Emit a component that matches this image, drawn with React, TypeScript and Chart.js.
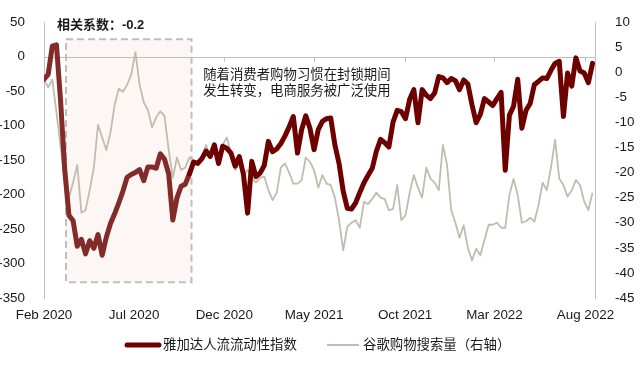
import React, { useEffect, useRef } from 'react';
import { Chart, registerables } from 'chart.js';

Chart.register(...registerables);

// Weekly series, starting first week of Feb 2020
const jakartaMobility = [
  -33, -26, 15, 17, -65, -165, -230, -238, -275, -265,
  -286, -267, -278, -258, -288, -262, -242, -228, -212, -195,
  -175, -171, -168, -164, -180, -160, -160, -162, -141, -149,
  -170, -237, -205, -188, -185, -170, -153, -155, -148, -137,
  -145, -128, -155, -130, -133, -140, -159, -145, -171, -227,
  -152, -174, -169, -158, -123, -138, -134, -126, -115, -102,
  -87, -140, -106, -86, -104, -135, -106, -94, -90, -89,
  -128, -155, -195, -220, -221, -212, -197, -183, -172, -162,
  -137, -120, -125, -131, -95, -78, -80, -90, -62, -48,
  -96, -48, -56, -61, -53, -29, -31, -38, -32, -35,
  -48, -34, -40, -70, -96, -84, -61, -66, -71, -61,
  -52, -165, -85, -72, -33, -104, -78, -68, -41, -36,
  -31, -32, -20, -10, -7, -87, -24, -43, -2, -21,
  -24, -38, -10,
];

const googleShopping = [
  -1.5, -3.0, -1.5, -8, -15, -22, -25, -22, -18.5, -28,
  -27.5, -23.5, -19, -10.5, -13, -15.5, -12, -6.5, -3.3, -3.9,
  -2.5, -0.5, 4, -2.5, -6, -7.5, -11, -9, -7.8, -8.7,
  -15.5, -21, -17, -19.5, -19, -17, -17.5, -18.5, -17, -14.5,
  -16.9, -16, -18.5, -14.5, -13, -16, -19.5, -18, -20.5, -19.5,
  -21, -22, -21, -20.8, -23.5, -25.5, -24, -19, -18.2, -20,
  -22.2, -22.2, -21.5, -17, -17.9, -19.5, -23, -20.5, -22.2, -22.5,
  -25, -29.5, -35.5, -30.8, -30, -29.5, -31, -25.8, -26.3, -25.2,
  -24, -25, -25.3, -27.5, -27.3, -22.5, -29.5, -28.5, -24, -20.5,
  -23, -25, -19, -21.2, -22, -23.5, -14.5, -18.5, -27.5, -30,
  -33, -30.5, -35, -37.5, -35.2, -36.5, -33.5, -30.4, -30.4, -30,
  -31, -31, -24.5, -21.3, -24.5, -30, -29.7, -29, -29.8, -26.5,
  -22, -23.5, -19, -13.5, -21.2, -22.5, -24.8, -23.5, -21.5, -22.5,
  -25.8, -27.5, -24,
];

const xTickWeeks = [0, 21.7, 43.4, 65, 86.9, 108.4, 130.3];
const xTickLabels = ['Feb 2020', 'Jul 2020', 'Dec 2020', 'May 2021', 'Oct 2021', 'Mar 2022', 'Aug 2022'];
const seriesNames = ['雅加达人流流动性指数', '谷歌购物搜索量（右轴）'];
const corrText = '相关系数：-0.2';
const noteLines = ['随着消费者购物习惯在封锁期间', '发生转变，电商服务被广泛使用'];

// Annotation box in data units (weeks, left-axis values)
const lockdownBox = { x0: 5.3, x1: 35.5, yTop: 25, yBottom: -327 };

const DARK = '#6E0000';
const DARK_IN_BOX = '#832B29';
const GRAY = '#BFBDAD';
const AXIS = '#BFBFBF';
const TEXT = '#1A1A1A';
const LAT = '"Liberation Sans", Arial, sans-serif';
const CJK = '"Liberation Sans", "Noto Sans CJK SC", sans-serif';

const decor = {
  id: 'decor',
  beforeDatasetsDraw(chart: any) {
    const { ctx, chartArea, scales } = chart;
    const x = scales.x;
    const y = scales.y;
    const bx0 = x.getPixelForValue(lockdownBox.x0);
    const bx1 = x.getPixelForValue(lockdownBox.x1);
    const by0 = y.getPixelForValue(lockdownBox.yTop);
    const by1 = y.getPixelForValue(lockdownBox.yBottom);
    ctx.save();
    ctx.fillStyle = '#FCF7F4';
    ctx.fillRect(bx0, by0, bx1 - bx0, by1 - by0);
    // zero line (category axis crossing)
    const y0 = Math.round(y.getPixelForValue(0)) + 0.5;
    ctx.strokeStyle = AXIS;
    ctx.lineWidth = 1;
    ctx.beginPath();
    ctx.moveTo(chartArea.left, y0);
    ctx.lineTo(chartArea.right, y0);
    ctx.stroke();
    xTickWeeks.forEach((w) => {
      const px = Math.round(x.getPixelForValue(w)) + 0.5;
      ctx.beginPath();
      ctx.moveTo(px, y0);
      ctx.lineTo(px, y0 + 4);
      ctx.stroke();
    });
    // dashed box outline
    ctx.setLineDash([7, 4]);
    ctx.lineWidth = 2;
    ctx.strokeStyle = AXIS;
    ctx.strokeRect(bx0, by0, bx1 - bx0, by1 - by0);
    ctx.restore();
  },
  afterDraw(chart: any) {
    const { ctx, scales } = chart;
    const x = scales.x;
    const y = scales.y;
    ctx.save();
    ctx.fillStyle = TEXT;
    ctx.textBaseline = 'middle';
    ctx.textAlign = 'left';
    ctx.font = 'bold 13px ' + CJK;
    ctx.fillText(corrText, x.getPixelForValue(3.1), y.getPixelForValue(45));
    ctx.font = '13.4px ' + CJK;
    ctx.fillText(noteLines[0], x.getPixelForValue(38.3), y.getPixelForValue(-27));
    ctx.fillText(noteLines[1], x.getPixelForValue(38.3), y.getPixelForValue(-50.5));

    // legend
    const ly = 345;
    ctx.lineCap = 'round';
    ctx.strokeStyle = DARK;
    ctx.lineWidth = 5;
    ctx.beginPath();
    ctx.moveTo(127, ly);
    ctx.lineTo(159, ly);
    ctx.stroke();
    ctx.strokeStyle = GRAY;
    ctx.lineWidth = 2;
    ctx.lineCap = 'butt';
    ctx.beginPath();
    ctx.moveTo(327, ly);
    ctx.lineTo(359, ly);
    ctx.stroke();
    ctx.font = '13.4px ' + CJK;
    ctx.fillStyle = TEXT;
    ctx.fillText(seriesNames[0], 163, ly);
    ctx.fillText(seriesNames[1], 363, ly);
    ctx.restore();
  },
};

export default function App() {
  const canvasRef = useRef<HTMLCanvasElement | null>(null);

  useEffect(() => {
    if (!canvasRef.current) return;
    const tickFont = { family: LAT, size: 13.4 };
    const chart = new Chart(canvasRef.current, {
      type: 'line',
      data: {
        datasets: [
          {
            label: seriesNames[0],
            data: jakartaMobility.map((v, i) => ({ x: i, y: v })),
            yAxisID: 'y',
            borderColor: DARK,
            borderWidth: 5,
            pointRadius: 0,
            tension: 0,
            borderJoinStyle: 'round',
            borderCapStyle: 'round',
            segment: {
              borderColor: (c: any) => (c.p1DataIndex <= 35 ? DARK_IN_BOX : DARK),
            },
          },
          {
            label: seriesNames[1],
            data: googleShopping.map((v, i) => ({ x: i, y: v })),
            yAxisID: 'y1',
            borderColor: GRAY,
            borderWidth: 1.8,
            pointRadius: 0,
            tension: 0,
            borderJoinStyle: 'round',
          },
        ],
      },
      options: {
        responsive: false,
        animation: false,
        devicePixelRatio: 1,
        layout: { padding: { top: 22, left: 0, right: 0, bottom: 0 } },
        plugins: { legend: { display: false }, tooltip: { enabled: false } },
        scales: {
          x: {
            type: 'linear',
            min: 0,
            max: 132.6,
            grid: { display: false },
            border: { display: false },
            afterBuildTicks: (s: any) => {
              s.ticks = xTickWeeks.map((v) => ({ value: v }));
            },
            afterFit: (s: any) => {
              s.height = 67;
            },
            ticks: {
              autoSkip: false,
              maxRotation: 0,
              padding: 1,
              color: TEXT,
              font: tickFont,
              callback: (_v: any, i: number) => xTickLabels[i],
            },
          },
          y: {
            position: 'left',
            min: -350,
            max: 50,
            grid: { display: false },
            border: { display: true, color: AXIS, width: 1 },
            afterFit: (s: any) => {
              s.width = 44;
            },
            ticks: { stepSize: 50, padding: 11, color: TEXT, font: tickFont },
          },
          y1: {
            position: 'right',
            min: -45,
            max: 10,
            grid: { display: false },
            border: { display: true, color: AXIS, width: 1 },
            afterFit: (s: any) => {
              s.width = 45;
            },
            ticks: { stepSize: 5, padding: 12, color: TEXT, font: tickFont },
          },
        },
      },
      plugins: [decor],
    } as any);
    return () => chart.destroy();
  }, []);

  return (
    <div style={{ position: 'absolute', left: 0, top: 0, width: 640, height: 365, background: '#fff' }}>
      <canvas ref={canvasRef} width={640} height={365} style={{ display: 'block' }} />
    </div>
  );
}
